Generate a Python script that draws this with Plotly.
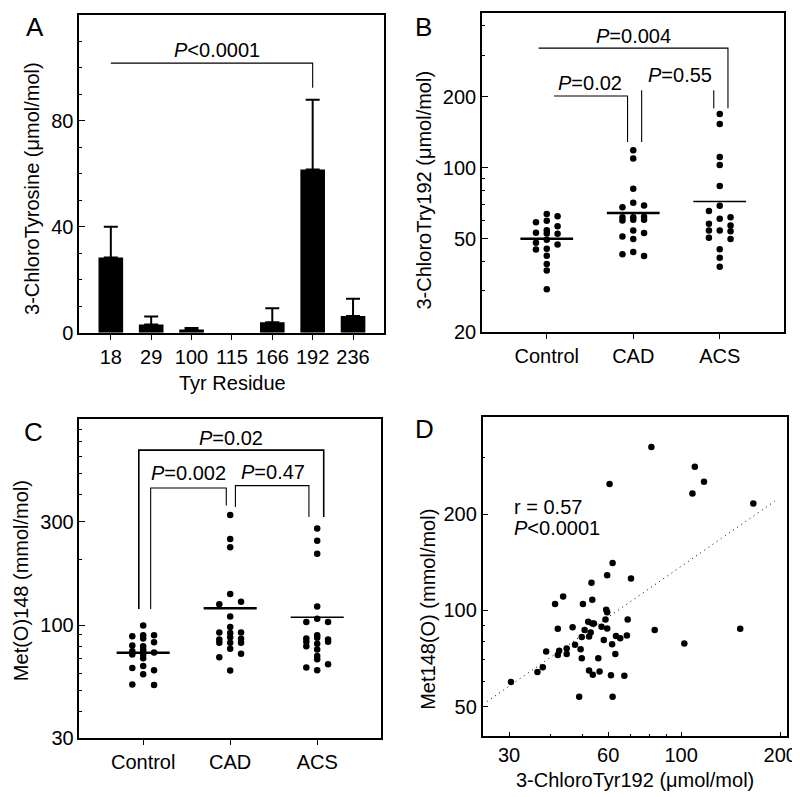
import math
import plotly.graph_objects as go

FONT = "Liberation Sans, Arial, Helvetica, sans-serif"
W, H = 800, 797
FS = 20

# ---------------- Panel A data ----------------
a_residues = ["18", "29", "100", "115", "166", "192", "236"]
a_means = [28.4, 3.1, 1.2, 0.0, 4.0, 61.6, 6.3]
a_sd = [11.6, 3.0, 0.6, 0.0, 5.2, 26.3, 6.5]

# ---------------- Panel B data (3-ChloroTyr192, umol/mol) ----------------
groups = ["Control", "CAD", "ACS"]
b_control = [58.7, 53.0, 48.1, 45.0,
             63.7, 59.5, 54.3, 52.6, 49.5, 45.3, 42.3, 39.0, 36.6, 30.5,
             62.2, 56.5, 52.5, 47.2]
b_control_col = [-1] * 4 + [0] * 10 + [1] * 4
b_cad = [67.9, 61.6, 59.7, 51.1, 42.9,
         118.5, 109.4, 81.5, 71.0, 61.6, 60.1, 54.2, 49.8, 43.9,
         69.2, 62.0, 60.1, 52.8, 42.2]
b_cad_col = [-1] * 5 + [0] * 9 + [1] * 5
b_acs = [65.5, 57.8, 54.2, 50.5,
         169.0, 153.4, 111.1, 102.8, 83.7, 69.0, 60.7, 54.2, 45.1, 41.5, 38.0,
         61.6, 56.8, 53.7, 49.8]
b_acs_col = [-1] * 4 + [0] * 11 + [1] * 4
b_means = [49.9, 64.3, 71.8]

# ---------------- Panel C data (Met(O)148, mmol/mol) ----------------
c_control = [88.7, 80.4, 75.8, 73.2, 63.4, 53.2,
             99.6, 89.7, 86.6, 79.9, 77.2, 75.0, 73.2, 70.2, 64.7, 59.3,
             89.7, 83.3, 74.8, 61.9, 52.9]
c_control_col = [-1] * 6 + [0] * 10 + [1] * 5
c_cad = [124.7, 92.5, 85.7, 82.8, 71.1,
         321.7, 249.3, 228.3, 138.9, 109.4, 97.9, 91.9, 87.8, 82.8, 77.7, 61.7,
         128.1, 92.5, 86.4, 82.8, 73.7]
c_cad_col = [-1] * 5 + [0] * 11 + [1] * 5
c_acs = [103.2, 86.6, 83.7, 79.9, 63.7,
         278.6, 244.8, 212.9, 121.6, 106.8, 89.7, 87.3, 81.9, 77.2, 71.9, 69.5, 61.9,
         103.2, 85.7, 83.7, 65.9]
c_acs_col = [-1] * 5 + [0] * 12 + [1] * 4
c_means = [74.6, 119.4, 108.7]

# ---------------- Panel D data ----------------
d_cltyr = [30.4, 36.6, 38.0, 38.9, 41.4, 43.8, 42.2, 42.2, 42.6, 44.9,
           44.9, 46.8, 47.6, 49.0, 49.5, 49.9, 49.9, 50.3, 50.9, 52.2,
           52.5, 52.5, 53.4, 53.7, 53.7, 53.9, 53.1, 54.3, 56.0, 56.5,
           57.3, 58.2, 58.9, 59.2, 59.6, 59.6, 59.6, 60.6, 61.2, 61.7,
           61.9, 61.9, 63.1, 63.4, 65.3, 67.2, 68.4, 68.8, 70.4, 81.2,
           83.1, 102.2, 108.2, 110.0, 117.3, 151.1, 165.6]
d_meto = [59.7, 64.1, 66.4, 74.4, 104.7, 110.5, 87.6, 72.5, 74.7, 76.0,
          73.0, 88.6, 78.0, 53.7, 75.6, 70.8, 82.5, 104.7, 86.8, 92.1,
          82.8, 64.8, 122.0, 107.9, 91.0, 62.9, 85.2, 91.0, 70.8, 64.4,
          88.9, 80.8, 93.6, 100.5, 98.6, 87.8, 128.9, 248.5, 62.6, 78.4,
          140.7, 53.7, 73.0, 83.1, 81.8, 62.4, 83.5, 93.6, 125.9, 324.8,
          86.8, 78.8, 232.1, 281.8, 252.7, 87.6, 216.1]
d_fit_x = [25.7, 192.4]
d_fit_y = [51.8, 219.7]

# ---------------- Significance brackets (data units) ----------------
a_brackets = [([0, 5, 5], [101.7, 101.7, 92.4])]
a_ptext = [(2.64, 106.5, "<i>P</i>&lt;0.0001")]

b_brackets = [([-0.095, 2.095, 2.095], [321.6, 321.6, 178.7]),
              ([0.083, 0.934, 0.934], [201.4, 201.4, 128.4]),
              ([1.097, 1.097], [213.3, 128.4]),
              ([1.931, 1.931], [213.3, 178.7])]
b_ptext = [(1.006, 362.5, "<i>P</i>=0.004"),
           (0.503, 228.9, "<i>P</i>=0.02"),
           (1.535, 246.5, "<i>P</i>=0.55")]

c_brackets = [([-0.05, -0.05, 2.075, 2.075], [118.7, 640.0, 640.0, 315.0]),
              ([0.086, 0.086, 0.955, 0.955], [118.7, 428.0, 428.0, 356.0]),
              ([1.06, 1.06, 1.905, 1.905], [350.0, 439.0, 439.0, 315.0])]
c_ptext = [(1.011, 728.0, "<i>P</i>=0.02"),
           (0.523, 501.0, "<i>P</i>=0.002"),
           (1.495, 510.0, "<i>P</i>=0.47")]

d_text = [(30.7, 210.6, "r = 0.57"), (30.7, 180.6, "<i>P</i>&lt;0.0001")]

# ---------------- helpers ----------------
COL_OFF = 0.125
HALF_MEAN = 0.305


def px_dom_x(a, b):
    return [a / W, b / W]


def px_dom_y(top, bottom):
    return [1 - bottom / H, 1 - top / H]


fig = go.Figure()

# Panel A bars (error bars drawn upward only; none where there is no error)
fig.add_trace(go.Bar(
    x=list(range(len(a_residues))), y=a_means, width=0.61,
    marker=dict(color="black", line=dict(width=0)),
    xaxis="x", yaxis="y", showlegend=False, hoverinfo="skip"))
err_x = [i for i, s in enumerate(a_sd) if s > 0]
fig.add_trace(go.Scatter(
    x=err_x, y=[a_means[i] + a_sd[i] for i in err_x], mode="markers",
    marker=dict(size=0.1, color="black", opacity=0),
    error_y=dict(type="data", array=[0] * len(err_x), arrayminus=[a_sd[i] for i in err_x],
                 symmetric=False, color="black", thickness=2, width=7),
    xaxis="x", yaxis="y", showlegend=False, hoverinfo="skip"))

for bx, by in a_brackets:
    fig.add_trace(go.Scatter(x=bx, y=by, mode="lines", line=dict(color="black", width=1.1),
                             xaxis="x", yaxis="y", showlegend=False, hoverinfo="skip"))


def add_dots(vals, cols, gi, xa, ya):
    fig.add_trace(go.Scatter(
        x=[gi + c * COL_OFF for c in cols], y=vals, mode="markers",
        marker=dict(color="black", size=6.5, line=dict(width=0)),
        xaxis=xa, yaxis=ya, showlegend=False, hoverinfo="skip"))


mean_widths = [2.5, 2.5, 1.5]

# Panel B
for gi, (vals, cols) in enumerate([(b_control, b_control_col), (b_cad, b_cad_col), (b_acs, b_acs_col)]):
    add_dots(vals, cols, gi, "x2", "y2")
for gi, m in enumerate(b_means):
    fig.add_trace(go.Scatter(x=[gi - HALF_MEAN, gi + HALF_MEAN], y=[m, m], mode="lines",
                             line=dict(color="black", width=mean_widths[gi]),
                             xaxis="x2", yaxis="y2", showlegend=False, hoverinfo="skip"))
for bx, by in b_brackets:
    fig.add_trace(go.Scatter(x=bx, y=by, mode="lines", line=dict(color="black", width=1.1),
                             xaxis="x2", yaxis="y2", showlegend=False, hoverinfo="skip"))

# Panel C
for gi, (vals, cols) in enumerate([(c_control, c_control_col), (c_cad, c_cad_col), (c_acs, c_acs_col)]):
    add_dots(vals, cols, gi, "x3", "y3")
for gi, m in enumerate(c_means):
    fig.add_trace(go.Scatter(x=[gi - HALF_MEAN, gi + HALF_MEAN], y=[m, m], mode="lines",
                             line=dict(color="black", width=mean_widths[gi]),
                             xaxis="x3", yaxis="y3", showlegend=False, hoverinfo="skip"))
for i, (bx, by) in enumerate(c_brackets):
    fig.add_trace(go.Scatter(x=bx, y=by, mode="lines",
                             line=dict(color="black", width=1.6 if i == 0 else 1.1),
                             xaxis="x3", yaxis="y3", showlegend=False, hoverinfo="skip"))

# Panel D
fig.add_trace(go.Scatter(x=d_fit_x, y=d_fit_y, mode="lines",
                         line=dict(color="black", width=1, dash="1px,4px"),
                         xaxis="x4", yaxis="y4", showlegend=False, hoverinfo="skip"))
fig.add_trace(go.Scatter(x=d_cltyr, y=d_meto, mode="markers",
                         marker=dict(color="black", size=6.5, line=dict(width=0)),
                         xaxis="x4", yaxis="y4", showlegend=False, hoverinfo="skip"))

tickfont = dict(family=FONT, size=FS, color="black")
base = dict(showline=True, linecolor="black", linewidth=1.5, mirror=True,
            showgrid=False, zeroline=False, tickfont=tickfont, tickcolor="black",
            tickwidth=1.3, fixedrange=True)

layout = dict(
    width=W, height=H, margin=dict(l=0, r=0, t=0, b=0),
    paper_bgcolor="white", plot_bgcolor="white", showlegend=False,
    font=dict(family=FONT, size=FS, color="black"),
    # Panel A
    xaxis=dict(base, domain=px_dom_x(72.3, 380), range=[-0.776, 6.76],
               tickmode="array", tickvals=list(range(len(a_residues))), ticktext=a_residues,
               ticks="outside", ticklen=5, linewidth=2, anchor="y"),
    yaxis=dict(base, domain=px_dom_y(6.7, 329.3), range=[0, 120],
               tickmode="array", tickvals=[0, 40, 80], ticks="inside", ticklen=6,
               minor=dict(dtick=10, ticks="inside", ticklen=3, tickcolor="black"),
               linewidth=2, anchor="x"),
    # Panel B
    xaxis2=dict(base, domain=px_dom_x(479.3, 785), range=[-0.75, 2.745],
                tickmode="array", tickvals=[0, 1, 2], ticktext=groups,
                ticks="outside", ticklen=5, anchor="y2"),
    yaxis2=dict(base, type="log", domain=px_dom_y(5, 329), range=[math.log10(20), 2.6567],
                tickmode="array", tickvals=[20, 50, 100, 200], ticks="inside", ticklen=6,
                minor=dict(tickmode="array", tickvals=[30, 40, 60, 70, 80, 90, 300, 400],
                           ticks="inside", ticklen=3, tickcolor="black"),
                anchor="x2"),
    # Panel C
    xaxis3=dict(base, domain=px_dom_x(72.3, 377.3), range=[-0.732, 2.734],
                tickmode="array", tickvals=[0, 1, 2], ticktext=groups,
                ticks="outside", ticklen=5, anchor="y3"),
    yaxis3=dict(base, type="log", domain=px_dom_y(416.7, 740.7), range=[math.log10(30), 2.9498],
                tickmode="array", tickvals=[30, 100, 300], ticks="inside", ticklen=6,
                minor=dict(tickmode="array",
                           tickvals=[40, 50, 60, 70, 80, 90, 200, 400, 500, 600, 700, 800],
                           ticks="inside", ticklen=3, tickcolor="black"),
                anchor="x3"),
    # Panel D
    xaxis4=dict(base, type="log", domain=px_dom_x(480, 788.3), range=[1.3969, 2.3227],
                tickmode="array", tickvals=[30, 60, 100, 200], ticks="inside", ticklen=5,
                minor=dict(tickmode="array", tickvals=[40, 50, 70, 80, 90],
                           ticks="inside", ticklen=3, tickcolor="black"),
                anchor="y4"),
    yaxis4=dict(base, type="log", domain=px_dom_y(415, 738.5), range=[1.6058, 2.6045],
                tickmode="array", tickvals=[50, 100, 200], ticks="inside", ticklen=6,
                minor=dict(tickmode="array", tickvals=[60, 70, 80, 90, 300, 400],
                           ticks="inside", ticklen=3, tickcolor="black"),
                anchor="x4"),
)
fig.update_layout(**layout)

ann = []


def paper_text(px, py, text, size=FS, angle=0):
    ann.append(dict(x=px / W, y=1 - py / H, xref="paper", yref="paper", text=text,
                    showarrow=False, xanchor="center", yanchor="middle", textangle=angle,
                    font=dict(family=FONT, size=size, color="black")))


# panel letters
paper_text(27, 19, "A", 26)
paper_text(420.5, 19, "B", 26)
paper_text(26, 429.5, "C", 26)
paper_text(421.5, 426.5, "D", 26)

# axis titles
paper_text(24.8, 183, "3-ChloroTyrosine (μmol/mol)", FS, -90)
paper_text(227, 380, "Tyr Residue", FS)
paper_text(420.8, 185, "3-ChloroTry192 (μmol/mol)", FS, -90)
paper_text(12.5, 580.8, "Met(O)148 (mmol/mol)", FS, -90)
paper_text(424, 610, "Met148(O) (mmol/mol)", FS, -90)
paper_text(634, 783.3, "3-ChloroTyr192 (μmol/mol)", FS)

pfont = dict(family=FONT, size=FS, color="black")
for x, y, t in a_ptext:
    ann.append(dict(x=x, y=y, xref="x", yref="y", text=t, showarrow=False,
                    xanchor="center", yanchor="middle", font=pfont))
for x, y, t in b_ptext:
    ann.append(dict(x=x, y=math.log10(y), xref="x2", yref="y2", text=t, showarrow=False,
                    xanchor="center", yanchor="middle", font=pfont))
for x, y, t in c_ptext:
    ann.append(dict(x=x, y=math.log10(y), xref="x3", yref="y3", text=t, showarrow=False,
                    xanchor="center", yanchor="middle", font=pfont))
for x, y, t in d_text:
    ann.append(dict(x=math.log10(x), y=math.log10(y), xref="x4", yref="y4", text=t, showarrow=False,
                    xanchor="left", yanchor="middle", font=pfont))

fig.update_layout(annotations=ann)
fig.write_html("out.html")
